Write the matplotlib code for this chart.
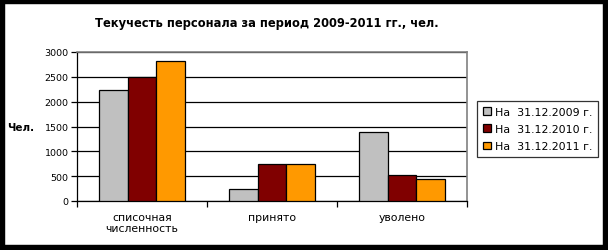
import numpy as np
import matplotlib.pyplot as plt
from matplotlib.patches import Rectangle

# Data
categories = ["списочная\nчисленность", "принято", "уволено"]
series_names = ["На  31.12.2009 г.", "На  31.12.2010 г.", "На  31.12.2011 г."]
values_2009 = [2230, 250, 1380]
values_2010 = [2490, 740, 515]
values_2011 = [2810, 755, 435]
colors = ["#C0C0C0", "#800000", "#FF9900"]

plt.rcParams['font.family'] = ['DejaVu Sans']

W, H = 608, 251
fig = plt.figure(figsize=(W / 100, H / 100), dpi=100)
fig.patch.set_facecolor("white")

# plot area in pixels: x 77..467, y 53..202
ax = fig.add_axes([77 / W, (H - 202) / H, 390 / W, 149 / H])

x = np.arange(len(categories))
w = 0.223
for k, vals in enumerate([values_2009, values_2010, values_2011]):
    ax.bar(x + (k - 1) * w, vals, width=w, color=colors[k], edgecolor="black",
           linewidth=0.9, label=series_names[k], zorder=3)

ax.set_xlim(-0.5, 2.5)
ax.set_ylim(0, 3000)
ax.set_yticks(range(0, 3001, 500))
ax.yaxis.grid(True, color="black", linewidth=0.9, zorder=0)
ax.set_axisbelow(True)

# category ticks at the boundaries, labels in the middle
ax.set_xticks([-0.5, 0.5, 1.5, 2.5])
ax.set_xticklabels([])
ax.set_xticks(x, minor=True)
ax.set_xticklabels(categories, minor=True, fontsize=7.8, linespacing=1.15)
ax.tick_params(axis="x", which="minor", length=0, pad=8)
ax.tick_params(axis="x", which="major", length=4, width=0.9, direction="out")
ax.tick_params(axis="y", length=4, width=0.9, labelsize=6.8, pad=2)

for s in ["top", "right"]:
    ax.spines[s].set_color("#808080")
    ax.spines[s].set_linewidth(1.2)
for s in ["left", "bottom"]:
    ax.spines[s].set_color("black")
    ax.spines[s].set_linewidth(0.9)

fig.text(21 / W, 1 - 128 / H, "Чел.", fontsize=7.5, fontweight="bold",
         ha="center", va="center")
fig.text(267 / W, 1 - 23 / H, "Текучесть персонала за период 2009-2011 гг., чел.",
         fontsize=8.3, fontweight="bold", ha="center", va="center")

leg = fig.legend(loc="upper left", bbox_to_anchor=(477 / W, 1 - 102 / H),
                 fontsize=7.9, frameon=True, fancybox=False, borderaxespad=0,
                 handlelength=0.7, handleheight=0.7, handletextpad=0.35,
                 borderpad=0.55, labelspacing=0.65)
leg.get_frame().set_edgecolor("black")
leg.get_frame().set_linewidth(0.9)

# black outer frame
fig.patches.append(Rectangle((0, 0), 1, 1, transform=fig.transFigure, fill=False,
                             edgecolor="black", linewidth=7.5))

fig.savefig("out.png", dpi=100)
